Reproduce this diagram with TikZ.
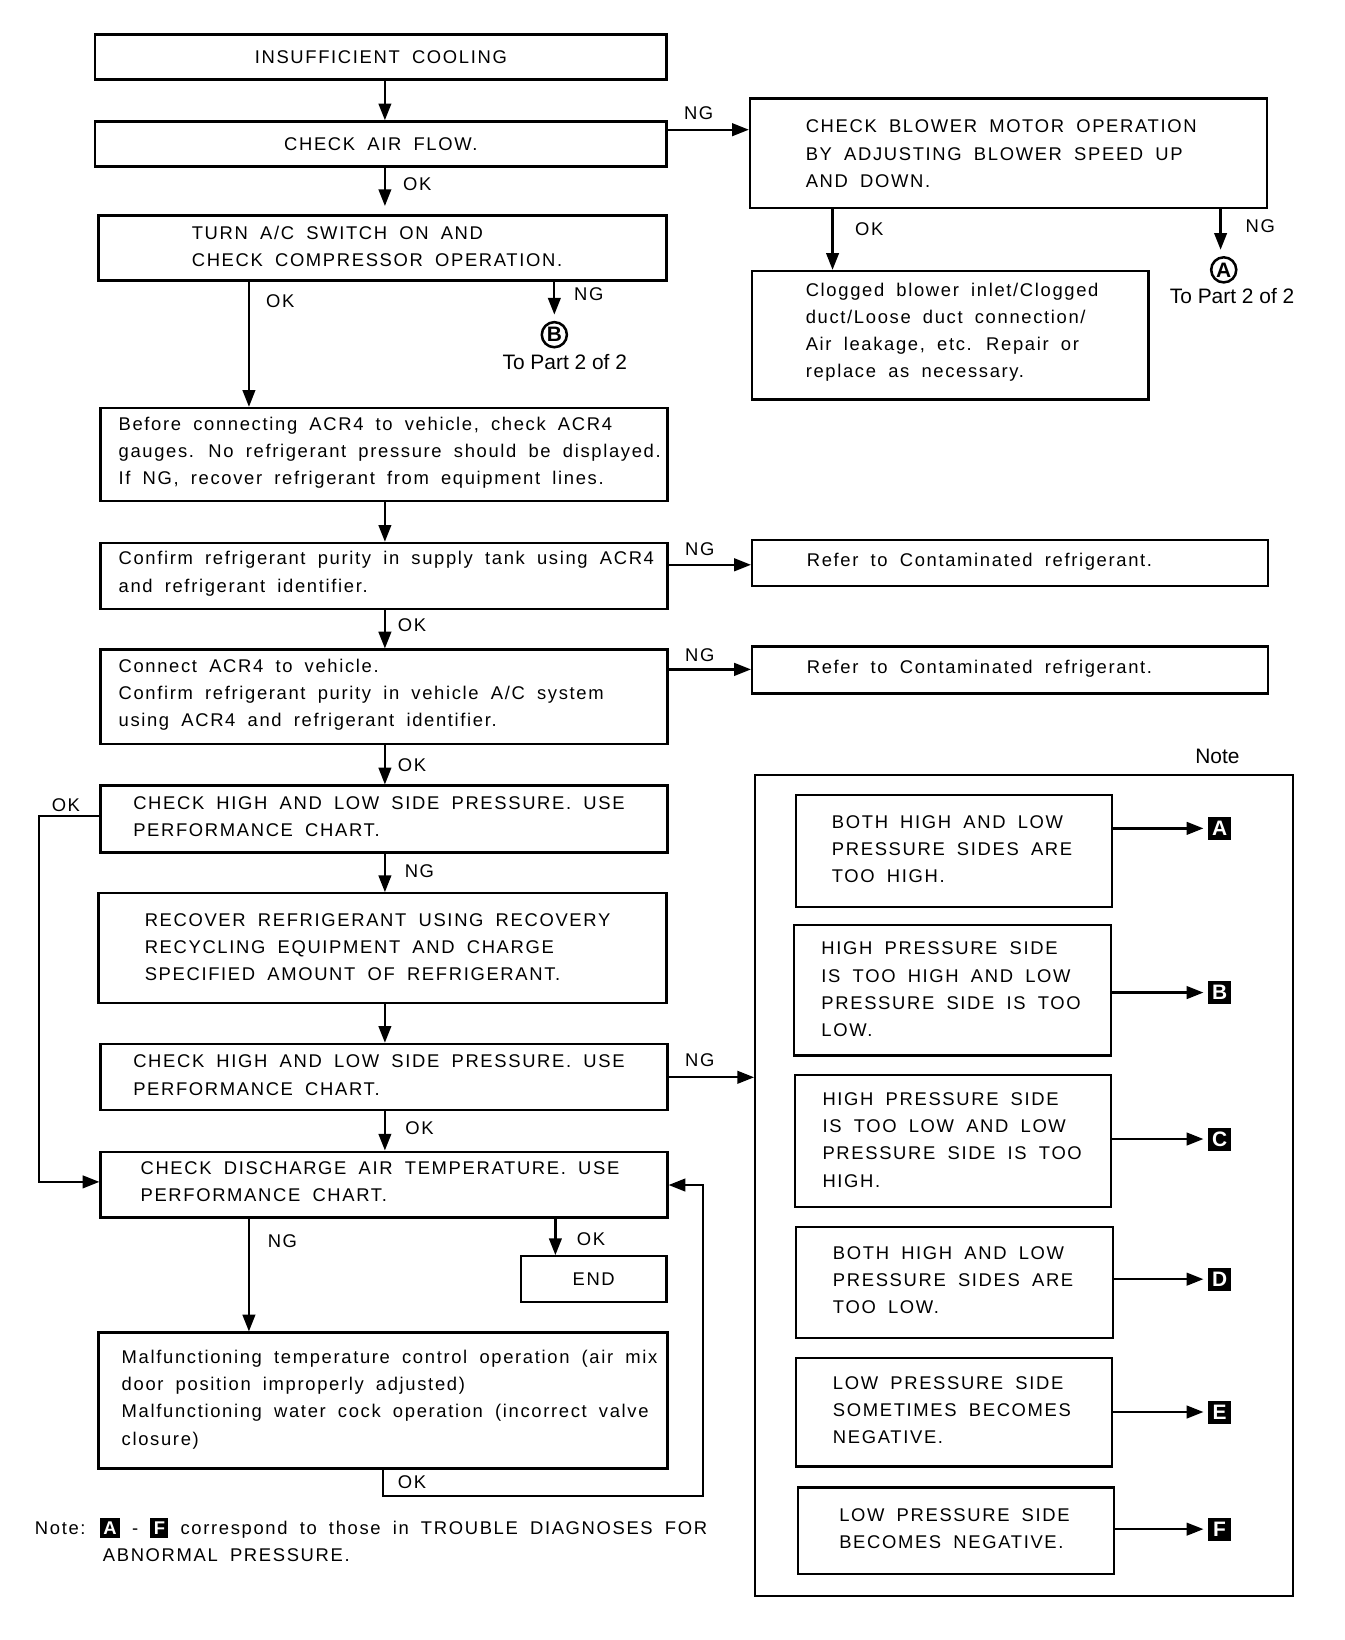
\documentclass[tikz,border=0pt]{standalone}
\usepackage{fontspec}
\setmainfont[LetterSpace=9,WordSpace=1.8]{Liberation Sans}
\newfontfamily\plainfont{Liberation Sans}
\usetikzlibrary{arrows.meta}
\newcommand{\blkletter}[1]{{\setlength{\fboxsep}{1.6pt}\colorbox{black}{\textcolor{white}{\plainfont\bfseries #1}}}}
\begin{document}
\begin{tikzpicture}[x=0.5pt,y=-0.5pt,
  every node/.style={font=\fontsize{8.8}{13}\selectfont},
  box/.style={draw, line width=1.1pt, anchor=north west, inner sep=0pt},
  txt/.style={anchor=west, align=left, inner sep=0pt},
  lbl/.style={inner sep=0pt},
  arr/.style={line width=1.1pt, -{Triangle[length=8pt,width=6pt]}},
  tag/.style={fill=black, text=white, minimum size=11pt, inner sep=0pt, font={\fontsize{10}{10}\selectfont\plainfont\bfseries}},
  circ/.style={circle, draw, line width=1.2pt, minimum size=12pt, inner sep=0pt, font={\fontsize{10}{10}\selectfont\plainfont\bfseries}},
  plain/.style={inner sep=0pt, font={\fontsize{10}{12}\selectfont\plainfont}}]
\useasboundingbox (0,0) rectangle (1285,1568);

% ---------- main column boxes ----------
\node[box, minimum width=273pt, minimum height=21.5pt] (b1) at (90,32) {INSUFFICIENT COOLING};
\node[box, minimum width=273pt, minimum height=21.5pt] (b2) at (90,115) {CHECK AIR FLOW.};
\node[box, minimum width=271.5pt, minimum height=31pt] (b3) at (93,205) {};
\node[box, minimum width=271pt, minimum height=44.5pt] (b4) at (95,389) {};
\node[box, minimum width=271pt, minimum height=31.5pt] (b5) at (95,518) {};
\node[box, minimum width=271pt, minimum height=45pt] (b6) at (95,620) {};
\node[box, minimum width=271pt, minimum height=32pt] (b7) at (95,750) {};
\node[box, minimum width=271.5pt, minimum height=52.5pt] (b8) at (93,853) {};
\node[box, minimum width=271pt, minimum height=31.5pt] (b9) at (95,997) {};
\node[box, minimum width=271pt, minimum height=31.5pt] (b10) at (95,1100) {};
\node[box, minimum width=69.5pt, minimum height=22pt] (endbox) at (497,1200) {END};
\node[box, minimum width=272pt, minimum height=65pt] (b11) at (93,1273) {};

% ---------- right column boxes ----------
\node[box, minimum width=247pt, minimum height=52.5pt] (r1) at (716,93) {};
\node[box, minimum width=189.5pt, minimum height=61.5pt] (r2) at (718,258) {};
\node[box, minimum width=246.5pt, minimum height=22pt] (r3) at (718,515) {};
\node[box, minimum width=246.5pt, minimum height=22.5pt] (r4) at (718,617) {};

% ---------- note panel ----------
\node[box, minimum width=257pt, minimum height=392.5pt] (panel) at (721,740) {};
\node[box, minimum width=151pt, minimum height=53.5pt] (n1) at (760,759) {};
\node[box, minimum width=151.5pt, minimum height=62.5pt] (n2) at (758,883) {};
\node[box, minimum width=151pt, minimum height=63pt] (n3) at (759,1027) {};
\node[box, minimum width=151.5pt, minimum height=53pt] (n4) at (760,1172) {};
\node[box, minimum width=151pt, minimum height=52pt] (n5) at (760,1297) {};
\node[box, minimum width=151pt, minimum height=41.5pt] (n6) at (762,1421) {};

% ---------- texts ----------
\node[txt] (t3) at (183,235.5) {TURN A/C SWITCH ON AND\\CHECK COMPRESSOR OPERATION.};
\node[txt] (t4) at (113,433) {Before connecting ACR4 to vehicle, check ACR4\\gauges. No refrigerant pressure should be displayed.\\If NG, recover refrigerant from equipment lines.};
\node[txt] (t5) at (113,548.5) {Confirm refrigerant purity in supply tank using ACR4\\and refrigerant identifier.};
\node[txt] (t6) at (113,664.5) {Connect ACR4 to vehicle.\\Confirm refrigerant purity in vehicle A/C system\\using ACR4 and refrigerant identifier.};
\node[txt] (t7) at (127,781) {CHECK HIGH AND LOW SIDE PRESSURE. USE\\PERFORMANCE CHART.};
\node[txt] (t8) at (138,905.5) {RECOVER REFRIGERANT USING RECOVERY\\RECYCLING EQUIPMENT AND CHARGE\\SPECIFIED AMOUNT OF REFRIGERANT.};
\node[txt] (t9) at (127,1028) {CHECK HIGH AND LOW SIDE PRESSURE. USE\\PERFORMANCE CHART.};
\node[txt] (t10) at (134,1130) {CHECK DISCHARGE AIR TEMPERATURE. USE\\PERFORMANCE CHART.};
\node[txt] (t11) at (116,1338) {Malfunctioning temperature control operation (air mix\\door position improperly adjusted)\\Malfunctioning water cock operation (incorrect valve\\closure)};
\node[txt] (tr1) at (770,147) {CHECK BLOWER MOTOR OPERATION\\BY ADJUSTING BLOWER SPEED UP\\AND DOWN.};
\node[txt] (tr2) at (770,317.5) {Clogged blower inlet/Clogged\\duct/Loose duct connection/\\Air leakage, etc. Repair or\\replace as necessary.};
\node[txt] (tr3) at (771,537) {Refer to Contaminated refrigerant.};
\node[txt] (tr4) at (771,639) {Refer to Contaminated refrigerant.};
\node[txt] (tn1) at (795,812) {BOTH HIGH AND LOW\\PRESSURE SIDES ARE\\TOO HIGH.};
\node[txt] (tn2) at (785,946) {HIGH PRESSURE SIDE\\IS TOO HIGH AND LOW\\PRESSURE SIDE IS TOO\\LOW.};
\node[txt] (tn3) at (786,1090) {HIGH PRESSURE SIDE\\IS TOO LOW AND LOW\\PRESSURE SIDE IS TOO\\HIGH.};
\node[txt] (tn4) at (796,1224) {BOTH HIGH AND LOW\\PRESSURE SIDES ARE\\TOO LOW.};
\node[txt] (tn5) at (796,1348) {LOW PRESSURE SIDE\\SOMETIMES BECOMES\\NEGATIVE.};
\node[txt] (tn6) at (802,1461.5) {LOW PRESSURE SIDE\\BECOMES NEGATIVE.};

% ---------- tags / references ----------
\node[circ] (cA) at (1170,258) {A};
\node[plain] (pA) at (1178,283) {To Part 2 of 2};
\node[circ] (cB) at (530,320) {B};
\node[plain] (pB) at (540,346) {To Part 2 of 2};
\node[plain] (notehd) at (1164,723) {Note};
\node[tag] (tgA) at (1166,792) {A};
\node[tag] (tgB) at (1166,949) {B};
\node[tag] (tgC) at (1166,1089) {C};
\node[tag] (tgD) at (1166,1223) {D};
\node[tag] (tgE) at (1166,1350) {E};
\node[tag] (tgF) at (1166,1462) {F};

% ---------- footer ----------
\node[txt] (foot1) at (33,1461) {Note: \blkletter{A} - \blkletter{F} correspond to those in TROUBLE DIAGNOSES FOR};
\node[txt] (foot2) at (98,1487) {ABNORMAL PRESSURE.};

% ---------- helper coordinates ----------
\coordinate (xm) at (368,0);
\coordinate (xl) at (238,0);
\coordinate (xb) at (530,0);
\coordinate (xe) at (531,0);
\coordinate (xok) at (796,0);
\coordinate (xa) at (1167,0);
\coordinate (yA) at (0,124);
\coordinate (y5) at (0,540);
\coordinate (y6) at (0,640);
\coordinate (y9) at (0,1030);
\coordinate (okA) at (37,780);
\coordinate (okB) at (37,1130);
\coordinate (lpA) at (366,1430);
\coordinate (lpB) at (672,1430);
\coordinate (lpC) at (672,1133);

% ---------- connectors ----------
\draw[arr] (b1.south -| xm) -- (b2.north -| xm);
\draw[arr] (b2.east |- yA) -- (r1.west |- yA);
\draw[arr, shorten >=4pt] (b2.south -| xm) -- (b3.north -| xm);
\draw[arr] (r1.south -| xok) -- (r2.north -| xok);
\draw[arr, shorten >=3pt] (r1.south -| xa) -- (cA.north -| xa);
\draw[arr, shorten >=3pt] (b3.south -| xb) -- (cB.north -| xb);
\draw[arr] (b3.south -| xl) -- (b4.north -| xl);
\draw[arr] (b4.south -| xm) -- (b5.north -| xm);
\draw[arr] (b5.east |- y5) -- (r3.west |- y5);
\draw[arr] (b5.south -| xm) -- (b6.north -| xm);
\draw[arr] (b6.east |- y6) -- (r4.west |- y6);
\draw[arr] (b6.south -| xm) -- (b7.north -| xm);
\draw[arr] (b7.west |- okA) -- (okA) -- (okB) -- (b10.west |- okB);
\draw[arr] (b7.south -| xm) -- (b8.north -| xm);
\draw[arr] (b8.south -| xm) -- (b9.north -| xm);
\draw[arr] (b9.east |- y9) -- (panel.west |- y9);
\draw[arr] (b9.south -| xm) -- (b10.north -| xm);
\draw[arr] (b10.south -| xe) -- (endbox.north -| xe);
\draw[arr] (b10.south -| xl) -- (b11.north -| xl);
\draw[arr] (b11.south -| lpA) -- (lpA) -- (lpB) -- (lpC) -- (b10.east |- lpC);
\draw[arr, shorten >=2pt] (n1.east |- tgA) -- (tgA.west);
\draw[arr, shorten >=2pt] (n2.east |- tgB) -- (tgB.west);
\draw[arr, shorten >=2pt] (n3.east |- tgC) -- (tgC.west);
\draw[arr, shorten >=2pt] (n4.east |- tgD) -- (tgD.west);
\draw[arr, shorten >=2pt] (n5.east |- tgE) -- (tgE.west);
\draw[arr, shorten >=2pt] (n6.east |- tgF) -- (tgF.west);

% ---------- connector labels ----------
\node[lbl] (l1) at (668,108) {NG};
\node[lbl] (l2) at (399,176) {OK};
\node[lbl] (l3) at (831,219) {OK};
\node[lbl] (l4) at (1205,216) {NG};
\node[lbl] (l5) at (563,281) {NG};
\node[lbl] (l6) at (268,288) {OK};
\node[lbl] (l7) at (669,525) {NG};
\node[lbl] (l8) at (394,598) {OK};
\node[lbl] (l9) at (669,626) {NG};
\node[lbl] (l10) at (394,732) {OK};
\node[lbl] (l11) at (63,770) {OK};
\node[lbl] (l12) at (401,833) {NG};
\node[lbl] (l13) at (669,1014) {NG};
\node[lbl] (l14) at (401,1079) {OK};
\node[lbl] (l15) at (270,1187) {NG};
\node[lbl] (l16) at (565,1185) {OK};
\node[lbl] (l17) at (394,1417) {OK};
\end{tikzpicture}
\end{document}
